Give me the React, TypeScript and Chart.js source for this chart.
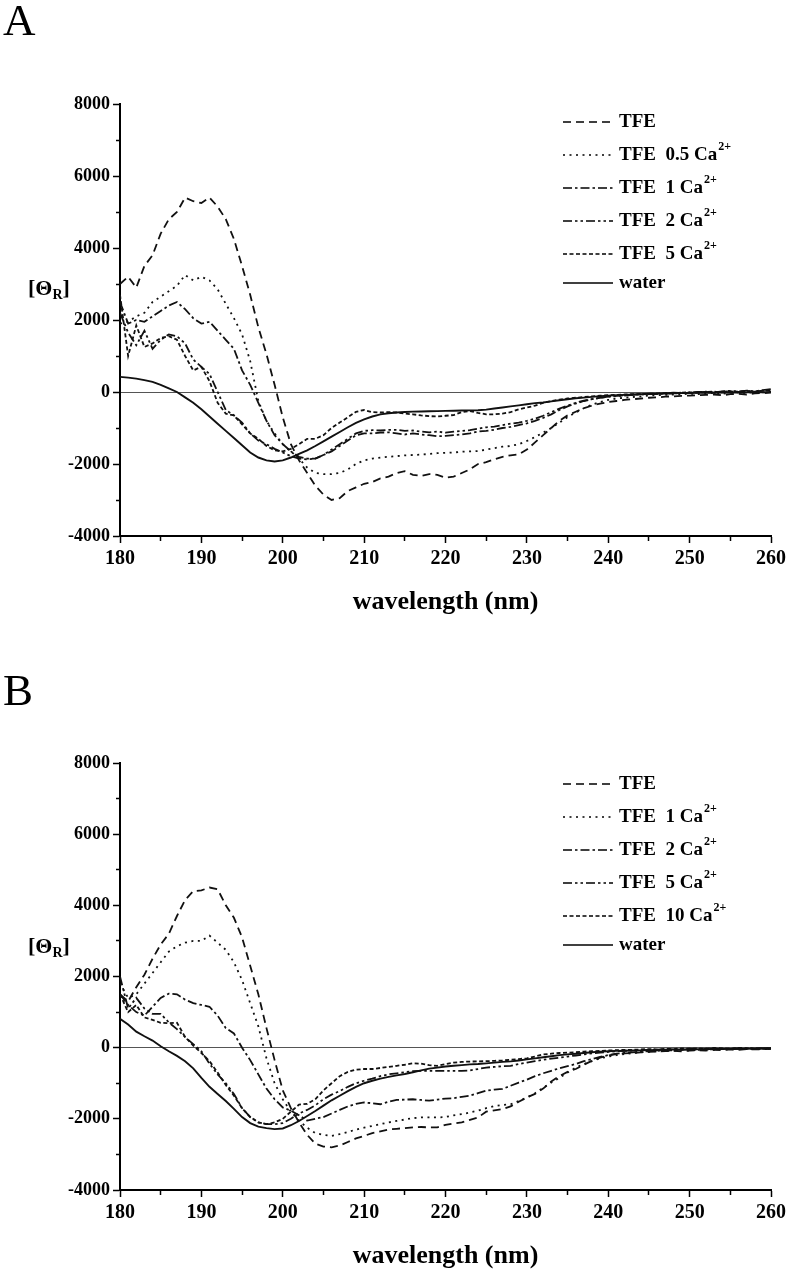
import React, { useEffect, useRef } from 'react';
import { Chart, registerables } from 'chart.js';

Chart.register(...registerables);

// ---------- data ----------
const wavelengths = [
  180, 181, 182, 183, 184, 185, 186, 187, 188, 189,
  190, 191, 192, 193, 194, 195, 196, 197, 198, 199,
  200, 201, 202, 203, 204, 205, 206, 207, 208, 209,
  210, 211, 212, 213, 214, 215, 216, 217, 218, 219,
  220, 221, 222, 223, 224, 225, 226, 227, 228, 229,
  230, 231, 232, 233, 234, 235, 236, 237, 238, 239,
  240, 241, 242, 243, 244, 245, 246, 247, 248, 249,
  250, 251, 252, 253, 254, 255, 256, 257, 258, 259, 260,
];

const xTicks = [180, 190, 200, 210, 220, 230, 240, 250, 260];
const yTicks = [-4000, -2000, 0, 2000, 4000, 6000, 8000];

// Panel A
const labelsA = ['TFE', 'TFE  0.5 Ca', 'TFE  1 Ca', 'TFE  2 Ca', 'TFE  5 Ca', 'water'];
const supsA = ['', '2+', '2+', '2+', '2+', ''];

const a_tfe = [
  3000, 3200, 2900, 3500, 3800, 4400, 4800, 5000, 5400, 5300,
  5250, 5400, 5150, 4800, 4250, 3500, 2700, 1800, 1050, 200,
  -700, -1450, -1900, -2250, -2600, -2850, -3000, -2950, -2750, -2650,
  -2550, -2500, -2400, -2350, -2250, -2200, -2300, -2330, -2280, -2300,
  -2380, -2350, -2250, -2150, -2000, -1950, -1870, -1800, -1760, -1730,
  -1600, -1400, -1200, -1000, -800, -650, -550, -450, -380, -320,
  -280, -250, -220, -200, -180, -160, -150, -130, -120, -110,
  -100, -90, -80, -70, -90, -60, -50, -70, -40, -30, -20,
];
const a_ca05 = [
  1900, 1950, 2100, 2200, 2500, 2650, 2800, 2950, 3250, 3100,
  3200, 3100, 2850, 2450, 2050, 1600, 860, -250, -800, -1150,
  -1450, -1650, -1850, -2100, -2250, -2280, -2280, -2250, -2150, -2000,
  -1900, -1850, -1820, -1800, -1780, -1760, -1750, -1740, -1720, -1700,
  -1690, -1680, -1660, -1650, -1640, -1600, -1560, -1520, -1500, -1450,
  -1360, -1250, -1130, -1000, -850, -700, -570, -450, -350, -280,
  -220, -180, -160, -140, -120, -100, -90, -80, -70, -60,
  -50, -60, -40, -30, -50, -20, -10, -30, 0, -10, 20,
];
const a_ca1 = [
  2500, 1900, 2000, 1950, 2100, 2250, 2400, 2500, 2300, 2050,
  1900, 1950, 1700, 1450, 1200, 600, 200, -300, -800, -1200,
  -1450, -1650, -1800, -1850, -1850, -1750, -1650, -1500, -1350, -1200,
  -1150, -1150, -1130, -1120, -1150, -1180, -1150, -1180, -1200, -1230,
  -1220, -1200, -1180, -1150, -1100, -1080, -1050, -1000, -970, -920,
  -870, -800, -720, -620, -500, -400, -320, -250, -200, -160,
  -130, -110, -90, -80, -60, -50, -60, -40, -30, -20,
  -30, -10, 0, -20, 10, 20, 0, 30, 10, 40, 60,
];
const a_ca2 = [
  2200, 1650, 1300, 1700, 1200, 1450, 1600, 1550, 1350, 900,
  700, 500, 0, -500, -650, -850, -1150, -1350, -1450, -1580,
  -1680, -1780, -1850, -1870, -1850, -1750, -1600, -1450, -1300, -1150,
  -1080, -1060, -1070, -1050, -1050, -1080, -1070, -1100, -1120, -1100,
  -1130, -1100, -1080, -1060, -1020, -980, -960, -920, -880, -850,
  -800, -740, -660, -560, -460, -380, -300, -240, -200, -160,
  -130, -110, -100, -80, -70, -60, -50, -40, -20, -30,
  -10, 0, 10, -10, 20, 30, 10, 40, 20, 50, 80,
];
const a_ca5 = [
  2700, 1000, 1850, 1250, 1350, 1500, 1550, 1450, 1000, 600,
  700, 300, -300, -600, -650, -900, -1150, -1300, -1500, -1620,
  -1650, -1580, -1450, -1300, -1300, -1200, -1000, -850, -700, -550,
  -500, -560, -570, -560, -570, -600, -620, -650, -670, -680,
  -660, -640, -560, -530, -580, -620, -620, -600, -560, -480,
  -430, -380, -300, -250, -210, -180, -160, -140, -120, -100,
  -90, -80, -70, -60, -60, -50, -40, -30, -40, -20,
  -10, -20, 0, 10, -10, 20, 10, 30, 0, 40, 30,
];
const a_water = [
  420, 400, 370, 330, 280, 200, 100, 0, -150, -300,
  -480, -680, -880, -1080, -1280, -1480, -1680, -1820, -1900, -1930,
  -1900, -1820, -1720, -1620, -1500, -1370, -1240, -1110, -980, -860,
  -760, -680, -620, -590, -570, -555, -545, -540, -535, -530,
  -525, -520, -515, -510, -505, -490, -460, -430, -400, -370,
  -340, -310, -290, -260, -230, -200, -175, -155, -135, -115,
  -100, -90, -80, -70, -60, -50, -45, -40, -35, -30,
  -28, -25, -22, -20, -17, -15, -12, -10, -8, -5, -3,
];

// Panel B
const labelsB = ['TFE', 'TFE  1 Ca', 'TFE  2 Ca', 'TFE  5 Ca', 'TFE  10 Ca', 'water'];
const supsB = ['', '2+', '2+', '2+', '2+', ''];

const b_tfe = [
  1500, 1300, 1700, 2050, 2500, 2900, 3200, 3700, 4150, 4400,
  4420, 4500, 4450, 4000, 3650, 3100, 2300, 1500, 550, -350,
  -1200, -1700, -2100, -2450, -2700, -2780, -2800, -2750, -2650, -2550,
  -2480, -2400, -2350, -2300, -2280, -2260, -2240, -2230, -2240, -2240,
  -2170, -2130, -2100, -2030, -1960, -1800, -1760, -1730, -1650, -1520,
  -1400, -1300, -1150, -950, -800, -680, -600, -480, -370, -280,
  -220, -180, -160, -150, -130, -120, -110, -100, -90, -100,
  -80, -70, -80, -60, -70, -50, -60, -40, -50, -40, -30,
];
const b_ca1 = [
  1800, 1400, 1500, 1800, 2100, 2400, 2700, 2850, 2950, 3000,
  3000, 3150, 2950, 2750, 2400, 1900, 1250, 600, -300, -1000,
  -1450, -1800, -2050, -2250, -2400, -2450, -2480, -2430, -2370, -2300,
  -2250, -2200, -2150, -2100, -2060, -2020, -1980, -1960, -1960, -1960,
  -1950, -1900, -1870, -1820, -1770, -1700, -1640, -1610, -1590, -1500,
  -1400, -1280, -1130, -980, -850, -700, -560, -460, -380, -300,
  -250, -210, -180, -150, -130, -120, -100, -90, -80, -70,
  -80, -60, -50, -60, -40, -50, -30, -40, -30, -40, -20,
];
const b_ca2 = [
  1500, 1200, 1000, 900, 1150, 1400, 1520, 1500, 1350, 1250,
  1200, 1150, 900, 550, 400, 0, -350, -750, -1150, -1450,
  -1680, -1770, -1900, -2050, -2000, -1950, -1850, -1750, -1650, -1580,
  -1540, -1560, -1590, -1520, -1470, -1460, -1450, -1470, -1490, -1460,
  -1430, -1420, -1380, -1350, -1280, -1210, -1180, -1160, -1070, -980,
  -900, -800, -720, -650, -580, -520, -460, -380, -320, -260,
  -210, -170, -150, -130, -110, -100, -90, -70, -80, -60,
  -50, -60, -40, -50, -30, -40, -30, -20, -40, -30, -20,
];
const b_ca5 = [
  2000, 1100, 1400, 1100, 950, 950, 710, 520, 300, 100,
  -100, -450, -750, -1000, -1300, -1700, -1950, -2100, -2150, -2150,
  -2120, -2000, -1850, -1750, -1620, -1450, -1320, -1220, -1100, -1000,
  -930, -870, -800, -750, -720, -690, -660, -650, -650, -650,
  -650, -650, -650, -640, -600, -560, -540, -520, -510, -460,
  -420, -380, -340, -310, -280, -250, -220, -190, -160, -140,
  -120, -100, -90, -80, -70, -60, -50, -60, -40, -50,
  -30, -40, -30, -20, -40, -30, -20, -30, -10, -20, -30,
];
const b_ca10 = [
  1500, 1000, 1200, 850, 780, 700, 690, 700, 300, 60,
  -150, -380, -700, -1050, -1350, -1700, -1950, -2100, -2150, -2100,
  -2000, -1800, -1600, -1580, -1450, -1200, -1000, -800, -680, -620,
  -600, -600, -570, -540, -510, -480, -440, -450, -490, -510,
  -460, -420, -400, -390, -385, -380, -370, -360, -340, -320,
  -300, -250, -190, -170, -150, -140, -130, -110, -100, -90,
  -80, -70, -60, -60, -50, -40, -50, -30, -40, -20,
  -30, -20, -30, -10, -20, -30, -10, -20, -30, -20, -10,
];
const b_water = [
  810, 650, 450, 320, 200, 40, -100, -230, -380, -580,
  -850, -1100, -1300, -1500, -1720, -1950, -2120, -2220, -2260, -2290,
  -2270, -2180, -2060, -1920, -1780, -1630, -1480, -1350, -1220, -1100,
  -1000, -930, -870, -820, -780, -740, -690, -640, -590, -560,
  -530, -510, -490, -470, -460, -440, -420, -400, -385, -360,
  -330, -300, -270, -240, -210, -190, -170, -150, -130, -110,
  -100, -90, -85, -80, -75, -70, -65, -60, -55, -52,
  -48, -45, -42, -40, -37, -35, -32, -30, -28, -25, -22,
];

const seriesA = [a_tfe, a_ca05, a_ca1, a_ca2, a_ca5, a_water];
const seriesB = [b_tfe, b_ca1, b_ca2, b_ca5, b_ca10, b_water];

// ---------- styles ----------
const DASHES: number[][] = [
  [8, 5],
  [2, 4.5],
  [9, 3, 2.5, 3],
  [9, 3, 2.5, 3, 2.5, 3],
  [4, 2.5],
  [],
];
const SERIF = '"Liberation Serif", "Times New Roman", serif';

type PanelCfg = {
  letter: string;
  labels: string[];
  sups: string[];
  series: number[][];
  padTop: number;
  xHeight: number;
  titlePadBottom: number;
  letterBaseline: number;
  yTitleY: number;
  legendY: number[];
};

const panels: PanelCfg[] = [
  {
    letter: 'A', labels: labelsA, sups: supsA, series: seriesA,
    padTop: 104, xHeight: 104, titlePadBottom: 22,
    letterBaseline: 35, yTitleY: 289,
    legendY: [122, 155, 188, 221, 254, 283],
  },
  {
    letter: 'B', labels: labelsB, sups: supsB, series: seriesB,
    padTop: 123, xHeight: 90, titlePadBottom: 8,
    letterBaseline: 65, yTitleY: 307,
    legendY: [144, 177, 210, 243, 276, 305],
  },
];

function makeDecor(p: PanelCfg) {
  return {
    id: 'decor' + p.letter,
    afterDraw(chart: any) {
      const ctx = chart.ctx as CanvasRenderingContext2D;
      ctx.save();
      ctx.fillStyle = '#000';
      ctx.strokeStyle = '#000';
      // panel letter
      ctx.font = `45px ${SERIF}`;
      ctx.textBaseline = 'alphabetic';
      ctx.textAlign = 'left';
      ctx.fillText(p.letter, 3, p.letterBaseline);
      // y axis title [Θ_R]
      ctx.font = `bold 22px ${SERIF}`;
      ctx.textBaseline = 'middle';
      let x = 28;
      ctx.fillText('[Θ', x, p.yTitleY);
      x += ctx.measureText('[Θ').width;
      ctx.font = `bold 14px ${SERIF}`;
      ctx.fillText('R', x, p.yTitleY + 6);
      x += ctx.measureText('R').width;
      ctx.font = `bold 22px ${SERIF}`;
      ctx.fillText(']', x, p.yTitleY);
      // legend
      chart.data.datasets.forEach((ds: any, i: number) => {
        const y = p.legendY[i];
        ctx.lineWidth = 1.6;
        ctx.setLineDash(ds.borderDash || []);
        ctx.beginPath();
        ctx.moveTo(563, y);
        ctx.lineTo(613, y);
        ctx.stroke();
        ctx.setLineDash([]);
        ctx.font = `bold 19px ${SERIF}`;
        ctx.textBaseline = 'middle';
        ctx.fillText(p.labels[i], 619, y);
        if (p.sups[i]) {
          const w = ctx.measureText(p.labels[i]).width;
          ctx.font = `bold 12px ${SERIF}`;
          ctx.fillText(p.sups[i], 619 + w + 1, y - 8);
        }
      });
      ctx.restore();
    },
  };
}

function Panel({ cfg }: { cfg: PanelCfg }) {
  const ref = useRef<HTMLCanvasElement | null>(null);
  useEffect(() => {
    if (!ref.current) return;
    const datasets = cfg.series.map((vals, i) => ({
      label: cfg.labels[i],
      data: wavelengths.map((w, j) => ({ x: w, y: vals[j] })),
      borderColor: '#111',
      borderWidth: i === 5 ? 1.9 : 1.8,
      borderDash: DASHES[i],
      pointRadius: 0,
      tension: 0,
      fill: false,
    }));
    const chart = new Chart(ref.current, {
      type: 'line',
      data: { datasets },
      options: {
        animation: false,
        responsive: false,
        maintainAspectRatio: false,
        layout: { padding: { top: cfg.padTop, right: 19, bottom: 0, left: 0 } },
        plugins: { legend: { display: false }, tooltip: { enabled: false } },
        scales: {
          x: {
            type: 'linear',
            min: 180,
            max: 260,
            position: 'bottom',
            afterFit: (s: any) => { s.height = cfg.xHeight; },
            ticks: {
              stepSize: 5,
              autoSkip: false,
              maxRotation: 0,
              padding: 4,
              color: '#000',
              font: { family: SERIF, weight: 'bold', size: 20 },
              callback: (v: any) => (xTicks.includes(Number(v)) ? String(v) : ''),
            },
            grid: {
              drawOnChartArea: false,
              tickLength: 7,
              tickColor: '#000',
              tickWidth: 1.5,
              tickBorderDash: (c: any) => (xTicks.includes(c.tick?.value) ? [] : [4, 20]),
            },
            border: { color: '#000', width: 2 },
            title: {
              display: true,
              text: 'wavelength (nm)',
              color: '#000',
              font: { family: SERIF, weight: 'bold', size: 26 },
              padding: { top: 0, bottom: cfg.titlePadBottom },
            },
          },
          y: {
            min: -4000,
            max: 8000,
            afterFit: (s: any) => { s.width = 120; },
            ticks: {
              stepSize: 1000,
              autoSkip: false,
              padding: 3,
              color: '#000',
              font: { family: SERIF, weight: 'bold', size: 18 },
              callback: (v: any) => (yTicks.includes(Number(v)) ? String(v) : ''),
            },
            grid: {
              color: (c: any) => (c.tick && c.tick.value === 0 ? '#555' : 'rgba(0,0,0,0)'),
              lineWidth: 1,
              tickLength: 7,
              tickColor: '#000',
              tickWidth: 1.5,
              tickBorderDash: (c: any) => (yTicks.includes(c.tick?.value) ? [] : [0, 3, 4, 20]),
            },
            border: { color: '#000', width: 2 },
          },
        },
      },
      plugins: [makeDecor(cfg)],
    } as any);
    return () => chart.destroy();
  }, [cfg]);
  return <canvas ref={ref} width={790} height={640} style={{ display: 'block', width: 790, height: 640 }} />;
}

export default function App() {
  return (
    <div style={{ position: 'absolute', left: 0, top: 0, width: 790, height: 1280, background: '#fff' }}>
      {panels.map((p) => (
        <Panel key={p.letter} cfg={p} />
      ))}
    </div>
  );
}
